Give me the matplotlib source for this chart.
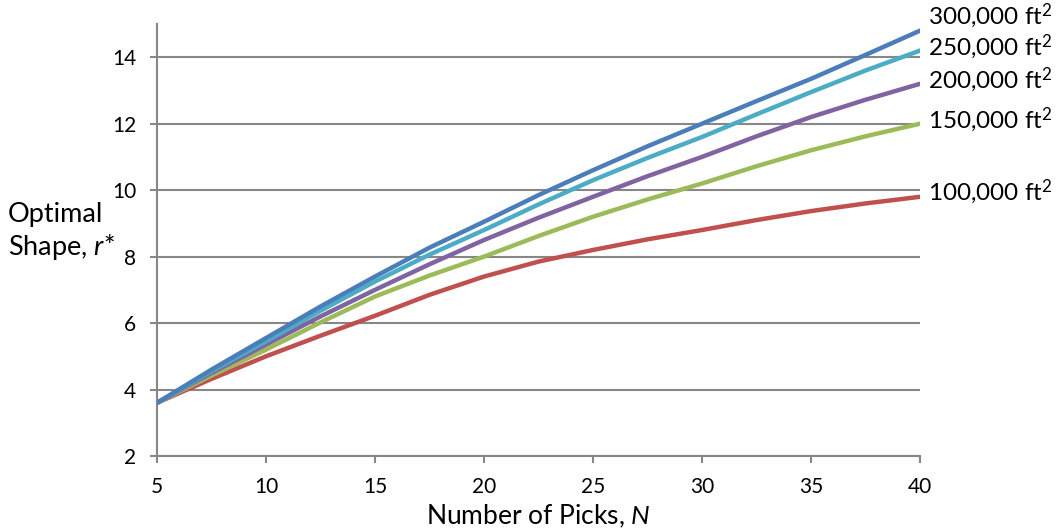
import matplotlib
matplotlib.use("Agg")
import matplotlib.pyplot as plt

plt.rcParams['font.family'] = ['Lato', 'DejaVu Sans']
plt.rcParams['mathtext.fontset'] = 'custom'
plt.rcParams['mathtext.rm'] = 'Lato'
plt.rcParams['mathtext.it'] = 'Lato:italic'

picks = [5, 7.5, 10, 12.5, 15, 17.5, 20, 22.5, 25, 27.5, 30, 32.5, 35, 37.5, 40]
r_100k = [3.6, 4.32, 5.0, 5.62, 6.22, 6.85, 7.4, 7.85, 8.2, 8.52, 8.8, 9.1, 9.37, 9.6, 9.8]
r_150k = [3.6, 4.42, 5.2, 6.02, 6.8, 7.43, 8.0, 8.62, 9.2, 9.72, 10.2, 10.72, 11.2, 11.62, 12.0]
r_200k = [3.6, 4.5, 5.35, 6.2, 7.0, 7.77, 8.5, 9.17, 9.8, 10.42, 11.0, 11.62, 12.2, 12.72, 13.2]
r_250k = [3.6, 4.55, 5.45, 6.37, 7.25, 8.06, 8.8, 9.57, 10.3, 10.97, 11.6, 12.28, 12.95, 13.6, 14.2]
r_300k = [3.6, 4.6, 5.55, 6.5, 7.4, 8.27, 9.05, 9.85, 10.6, 11.32, 12.0, 12.68, 13.35, 14.07, 14.8]
series_labels = ["100,000 ft$^2$", "150,000 ft$^2$", "200,000 ft$^2$",
                 "250,000 ft$^2$", "300,000 ft$^2$"]
y_ticks = [2, 4, 6, 8, 10, 12, 14]
x_ticks = [5, 10, 15, 20, 25, 30, 35, 40]

series = [r_100k, r_150k, r_200k, r_250k, r_300k]
colors = ["#C0504D", "#9BBB59", "#8064A2", "#4BACC6", "#4A7EBB"]
label_dy = [4, 3, 3, 3, 10.5]  # label offsets in points

fig = plt.figure(figsize=(10.61, 5.31), dpi=100)
ax = fig.add_axes([157/1061, 75/531, 763/1061, 432/531])
grid_c = "#878787"

for yv in y_ticks:
    ax.axhline(yv, color=grid_c, lw=1.5, zorder=1)

for vals, c, lab, dy in zip(series, colors, series_labels, label_dy):
    ax.plot(picks, vals, color=c, lw=3.2, solid_capstyle='round',
            solid_joinstyle='round', zorder=3)
    ax.annotate(lab, xy=(picks[-1], vals[-1]), xytext=(6, dy),
                textcoords='offset points', ha='left', va='center',
                fontsize=17.5, color='black', annotation_clip=False)

ax.set_xlim(5, 40)
ax.set_ylim(2, 15)
ax.set_xticks(x_ticks)
ax.set_yticks(y_ticks)
for s in ['top', 'right']:
    ax.spines[s].set_visible(False)
for s in ['left', 'bottom']:
    ax.spines[s].set_color(grid_c)
    ax.spines[s].set_linewidth(1.5)
ax.tick_params(axis='both', colors=grid_c, length=5, width=1.5, direction='out',
               labelcolor='black', labelsize=15)
ax.tick_params(axis='x', pad=10)
ax.tick_params(axis='y', pad=10)

ax.set_xlabel("Number of Picks, $N$", fontsize=19, labelpad=4)
fig.text(8/1061, 1 - 232/531, "Optimal\nShape, $r$*", fontsize=19.5,
         ha='left', va='center', linespacing=1.25)

fig.savefig("out.png", dpi=100)
